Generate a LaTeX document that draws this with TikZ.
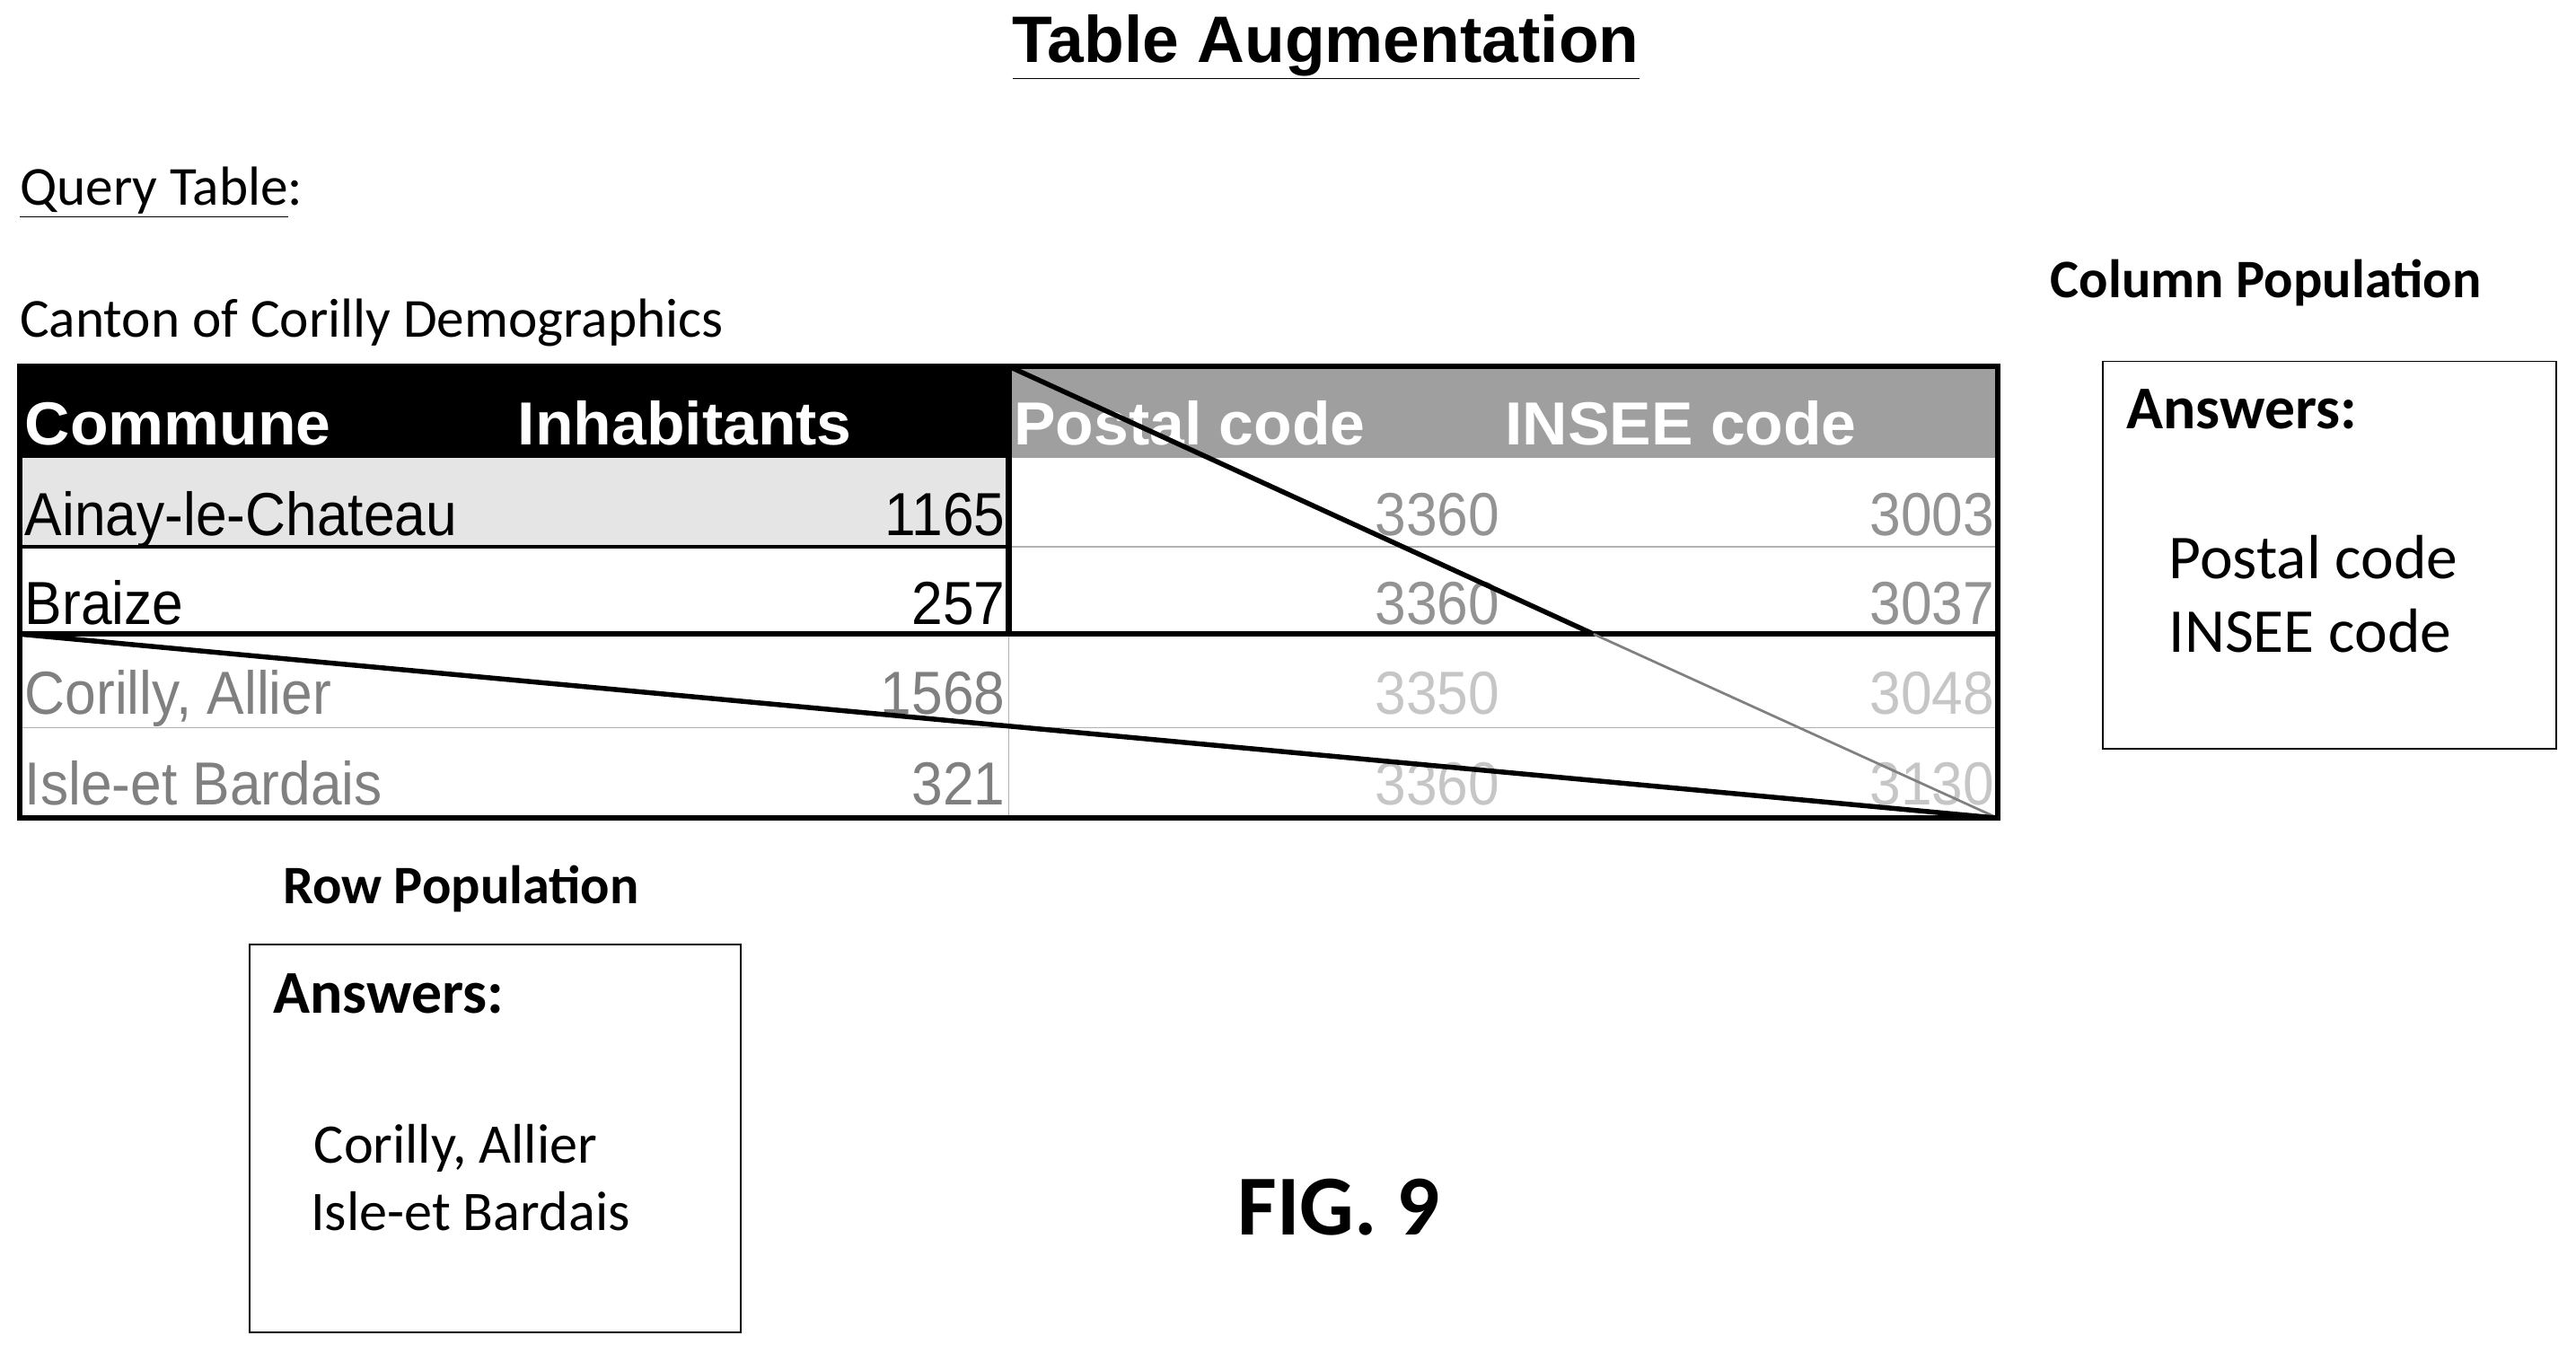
\documentclass[tikz,border=0pt]{standalone}
\usepackage{fontspec}
\setmainfont{Carlito}
\newfontfamily\arialf{Liberation Sans}
\begin{document}
\begin{tikzpicture}[x=1pt,y=-1pt,
  cal/.style={font=\fontsize{33.5}{36}\selectfont,anchor=base west,inner sep=0},
  calb/.style={font=\fontsize{33}{36}\selectfont\bfseries,anchor=base west,inner sep=0},
  hdr/.style={font=\arialf\bfseries\fontsize{37}{40}\selectfont,anchor=base west,inner sep=0,text=white,xscale=1.03},
  cell/.style={font=\arialf\fontsize{37}{40}\selectfont,anchor=base west,inner sep=0,xscale=0.92},
  num/.style={font=\arialf\fontsize{37}{40}\selectfont,anchor=base east,inner sep=0,xscale=0.92},
  abox/.style={draw=black,line width=1pt}]
\useasboundingbox (0,0) rectangle (1568,823.6);
% title
\node[font=\arialf\bfseries\fontsize{40}{44}\selectfont,anchor=base,inner sep=0] (title) at (807,38) {\underline{Table Augmentation}};
\node[cal] (qt) at (12,125) {\underline{Query Table}:};
\node[cal] (cap) at (12,205) {Canton of Corilly Demographics};
% fills
\fill[black] (12,223) rectangle (614,279);
\fill[gray!75] (614,223) rectangle (1216,279);
\fill[gray!20] (12,279) rectangle (614,333);
% header
\node[hdr] (h1) at (15,271) {Commune};
\node[hdr] (h2) at (315,271) {Inhabitants};
\node[hdr] (h3) at (617,271) {Postal code};
\node[hdr] (h4) at (916,271) {INSEE code};
% rows
\node[cell] (r1) at (15,326) {Ainay-le-Chateau};
\node[num] (n1) at (612,326) {1165};
\node[cell] (r2) at (15,380) {Braize};
\node[num] (n2) at (612,380) {257};
\node[cell,text=gray] (r3) at (15,435) {Corilly, Allier};
\node[num,text=gray] (n3) at (612,435) {1568};
\node[cell,text=gray] (r4) at (15,490) {Isle-et Bardais};
\node[num,text=gray] (n4) at (612,490) {321};
\node[num,text=gray!85] (p1) at (913,326) {3360};
\node[num,text=gray!85] (i1) at (1214,326) {3003};
\node[num,text=gray!85] (p2) at (913,380) {3360};
\node[num,text=gray!85] (i2) at (1214,380) {3037};
\node[num,text=gray!45] (p3) at (913,435) {3350};
\node[num,text=gray!45] (i3) at (1214,435) {3048};
\node[num,text=gray!45] (p4) at (913,490) {3360};
\node[num,text=gray!45] (i4) at (1214,490) {3130};
% grid
\draw[gray!60,line width=1pt] (614,333) -- (1216,333) (12,443) -- (1216,443) (614,386) -- (614,498);
\draw[black,line width=2pt] (12,333) -- (614,333);
\draw[black,line width=3.5pt] (614,223) -- (614,386);
\draw[black,line width=3.5pt] (12,386) -- (1216,386);
\draw[black,line width=3.5pt] (12,223) rectangle (1216,498);
% diagonals
\coordinate (d1) at (614,223);
\coordinate (dm) at (970,386);
\coordinate (d2) at (1216,498);
\coordinate (d3) at (12,386);
\draw[black,line width=3pt] (d1) -- (dm);
\draw[gray,line width=1.5pt] (dm) -- (d2);
\draw[black,line width=3pt] (d3) -- (d2);
% column population
\node[calb] (cp) at (1248,181) {Column Population};
\draw[abox] (1280,220) rectangle (1556,456);
\node[calb,font=\fontsize{37}{40}\selectfont\bfseries] (ca) at (1294,261) {Answers:};
\node[cal,font=\fontsize{38}{40}\selectfont] (c1) at (1320,352) {Postal code};
\node[cal,font=\fontsize{38}{40}\selectfont] (c2) at (1320,397) {INSEE code};
% row population
\node[calb] (rp) at (172,550) {Row Population};
\draw[abox] (152,575) rectangle (451,811);
\node[calb,font=\fontsize{37}{40}\selectfont\bfseries] (ra) at (166,617) {Answers:};
\node[cal,font=\fontsize{34}{36}\selectfont] (ra1) at (191,708) {Corilly, Allier};
\node[cal,font=\fontsize{34}{36}\selectfont] (ra2) at (189,749) {Isle-et Bardais};
\node[font=\fontsize{52}{56}\selectfont\bfseries,anchor=base,inner sep=0] (fig) at (815,752) {FIG. 9};
\end{tikzpicture}
\end{document}
